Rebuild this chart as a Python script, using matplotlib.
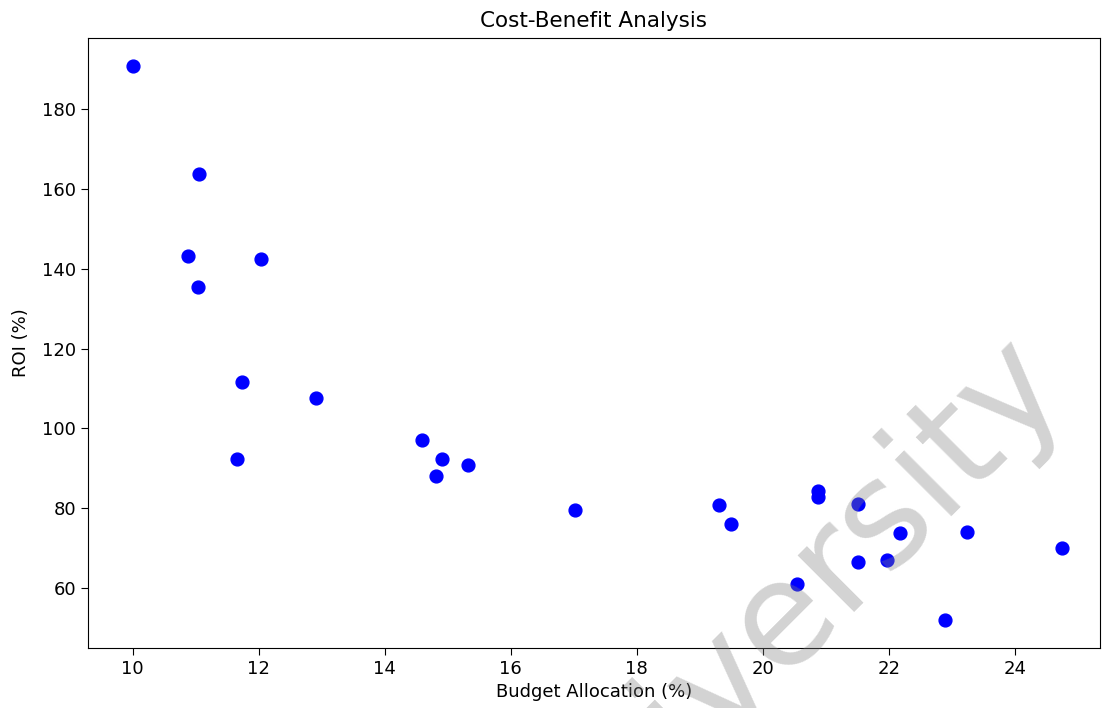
import matplotlib
matplotlib.use("Agg")
import matplotlib.pyplot as plt

# Budget allocation (%) vs ROI (%)
budget = [10.00, 11.05, 10.88, 12.04, 11.03, 11.73, 12.91, 11.66, 14.59, 14.91,
          14.81, 15.32, 17.02, 19.30, 19.50, 20.54, 20.88, 20.88, 21.51, 22.18,
          21.51, 21.97, 23.25, 24.75, 22.89]
roi = [190.8, 163.7, 143.2, 142.6, 135.5, 111.5, 107.5, 92.3, 97.2, 92.3,
       88.0, 90.7, 79.4, 80.8, 76.1, 60.9, 84.3, 82.7, 81.1, 73.7,
       66.4, 67.1, 74.1, 70.0, 51.9]

fig = plt.figure(figsize=(11.03, 7.08), dpi=100)
ax = fig.add_axes([0.0798, 0.0847, 0.9172, 0.8616])

ax.scatter(budget, roi, color='blue', s=85)
ax.set_xlim(9.29, 25.35)
ax.set_ylim(44.9, 197.9)
ax.set_title('Cost-Benefit Analysis', fontsize=15.5, pad=8)
ax.set_xlabel('Budget Allocation (%)', fontsize=13)
ax.set_ylabel('ROI (%)', fontsize=13, labelpad=9)
ax.tick_params(labelsize=13, length=5)

# watermark drawn over the plot
fig.text(0.707, 0.128, 'University', fontsize=105, color='gray', alpha=0.35,
         rotation=45, ha='center', va='center', rotation_mode='anchor')

fig.savefig('out.png', dpi=100)
